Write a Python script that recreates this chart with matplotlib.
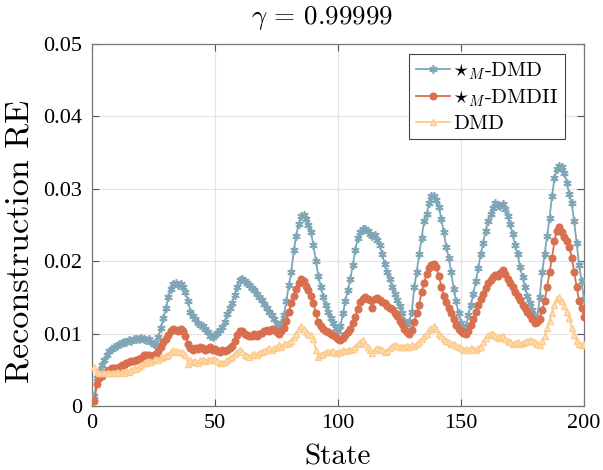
import numpy as np
import matplotlib
matplotlib.use("Agg")
import matplotlib.pyplot as plt

# Reconstruction relative error per state, three methods
states = np.arange(1, 201)

re_star_dmd = [
    0.0014, 0.0038, 0.0048, 0.0056, 0.0063, 0.0070, 0.0076, 0.0079, 0.0082, 0.0083,
    0.0086, 0.0087, 0.0088, 0.0089, 0.0091, 0.0090, 0.0092, 0.0093, 0.0092, 0.0094,
    0.0093, 0.0091, 0.0092, 0.0089, 0.0086, 0.0084, 0.0095, 0.0108, 0.0121, 0.0135,
    0.0150, 0.0161, 0.0168, 0.0170, 0.0167, 0.0168, 0.0165, 0.0158, 0.0145, 0.0130,
    0.0124, 0.0120, 0.0114, 0.0112, 0.0110, 0.0106, 0.0102, 0.0097, 0.0095, 0.0098,
    0.0101, 0.0105, 0.0109, 0.0116, 0.0127, 0.0135, 0.0142, 0.0153, 0.0165, 0.0174,
    0.0176, 0.0172, 0.0170, 0.0167, 0.0163, 0.0160, 0.0154, 0.0150, 0.0146, 0.0141,
    0.0135, 0.0130, 0.0126, 0.0120, 0.0113, 0.0110, 0.0115, 0.0125, 0.0145, 0.0167,
    0.0185, 0.0215, 0.0235, 0.0252, 0.0262, 0.0264, 0.0258, 0.0250, 0.0240, 0.0222,
    0.0200, 0.0180, 0.0165, 0.0150, 0.0140, 0.0130, 0.0122, 0.0114, 0.0108, 0.0103,
    0.0110, 0.0128, 0.0145, 0.0160, 0.0175, 0.0195, 0.0215, 0.0232, 0.0240, 0.0244,
    0.0245, 0.0242, 0.0238, 0.0235, 0.0236, 0.0229, 0.0222, 0.0210, 0.0196, 0.0185,
    0.0176, 0.0165, 0.0155, 0.0146, 0.0138, 0.0128, 0.0118, 0.0113, 0.0116, 0.0130,
    0.0165, 0.0185, 0.0210, 0.0232, 0.0255, 0.0265, 0.0280, 0.0290, 0.0290, 0.0285,
    0.0275, 0.0258, 0.0240, 0.0220, 0.0205, 0.0185, 0.0162, 0.0145, 0.0128, 0.0115,
    0.0108, 0.0110, 0.0125, 0.0140, 0.0155, 0.0172, 0.0190, 0.0210, 0.0225, 0.0242,
    0.0255, 0.0265, 0.0273, 0.0280, 0.0278, 0.0276, 0.0279, 0.0272, 0.0262, 0.0252,
    0.0237, 0.0222, 0.0210, 0.0192, 0.0178, 0.0165, 0.0152, 0.0142, 0.0132, 0.0124,
    0.0122, 0.0150, 0.0185, 0.0210, 0.0235, 0.0260, 0.0290, 0.0315, 0.0328, 0.0332,
    0.0330, 0.0322, 0.0308, 0.0293, 0.0280, 0.0255, 0.0225, 0.0195, 0.0172, 0.0148,
]

re_star_dmdii = [
    0.0007, 0.0030, 0.0038, 0.0042, 0.0045, 0.0048, 0.0050, 0.0052, 0.0053, 0.0052,
    0.0054, 0.0056, 0.0057, 0.0060, 0.0061, 0.0062, 0.0062, 0.0064, 0.0065, 0.0066,
    0.0070, 0.0071, 0.0070, 0.0069, 0.0071, 0.0072, 0.0076, 0.0082, 0.0088, 0.0093,
    0.0098, 0.0103, 0.0106, 0.0105, 0.0104, 0.0106, 0.0103, 0.0097, 0.0086, 0.0080,
    0.0078, 0.0080, 0.0079, 0.0081, 0.0080, 0.0078, 0.0079, 0.0081, 0.0077, 0.0079,
    0.0076, 0.0075, 0.0077, 0.0076, 0.0078, 0.0080, 0.0083, 0.0090, 0.0098, 0.0104,
    0.0103, 0.0100, 0.0098, 0.0096, 0.0097, 0.0099, 0.0097, 0.0100, 0.0101, 0.0103,
    0.0105, 0.0104, 0.0106, 0.0105, 0.0102, 0.0100, 0.0104, 0.0108, 0.0118, 0.0130,
    0.0142, 0.0152, 0.0162, 0.0170, 0.0175, 0.0172, 0.0166, 0.0160, 0.0152, 0.0142,
    0.0128, 0.0116, 0.0110, 0.0107, 0.0104, 0.0102, 0.0100, 0.0098, 0.0095, 0.0092,
    0.0091, 0.0094, 0.0098, 0.0102, 0.0107, 0.0115, 0.0123, 0.0134, 0.0143, 0.0148,
    0.0150, 0.0148, 0.0147, 0.0136, 0.0148, 0.0149, 0.0147, 0.0144, 0.0142, 0.0138,
    0.0136, 0.0134, 0.0128, 0.0124, 0.0118, 0.0113, 0.0107, 0.0102, 0.0100, 0.0105,
    0.0116, 0.0128, 0.0140, 0.0158, 0.0170, 0.0182, 0.0190, 0.0195, 0.0196, 0.0192,
    0.0180, 0.0165, 0.0152, 0.0143, 0.0135, 0.0128, 0.0120, 0.0112, 0.0106, 0.0103,
    0.0101, 0.0100, 0.0103, 0.0112, 0.0120, 0.0130, 0.0140, 0.0148, 0.0155, 0.0163,
    0.0170, 0.0174, 0.0178, 0.0181, 0.0180, 0.0183, 0.0188, 0.0182, 0.0176, 0.0170,
    0.0165, 0.0158, 0.0152, 0.0146, 0.0140, 0.0135, 0.0130, 0.0126, 0.0120, 0.0115,
    0.0116, 0.0120, 0.0132, 0.0145, 0.0165, 0.0185, 0.0205, 0.0228, 0.0242, 0.0247,
    0.0240, 0.0233, 0.0228, 0.0220, 0.0205, 0.0185, 0.0165, 0.0145, 0.0135, 0.0123,
]

re_dmd = [
    0.0054, 0.0047, 0.0045, 0.0046, 0.0045, 0.0046, 0.0045, 0.0046, 0.0045, 0.0047,
    0.0046, 0.0047, 0.0046, 0.0048, 0.0047, 0.0050, 0.0052, 0.0051, 0.0054, 0.0057,
    0.0059, 0.0060, 0.0062, 0.0061, 0.0063, 0.0065, 0.0064, 0.0066, 0.0068, 0.0069,
    0.0071, 0.0074, 0.0077, 0.0076, 0.0074, 0.0075, 0.0073, 0.0070, 0.0058, 0.0063,
    0.0061, 0.0062, 0.0060, 0.0063, 0.0064, 0.0062, 0.0064, 0.0063, 0.0065, 0.0063,
    0.0062, 0.0060, 0.0059, 0.0061, 0.0063, 0.0066, 0.0068, 0.0072, 0.0075, 0.0077,
    0.0075, 0.0071, 0.0069, 0.0068, 0.0070, 0.0072, 0.0071, 0.0073, 0.0075, 0.0076,
    0.0078, 0.0080, 0.0078, 0.0080, 0.0082, 0.0084, 0.0082, 0.0085, 0.0086, 0.0087,
    0.0090, 0.0095, 0.0100, 0.0106, 0.0110, 0.0106, 0.0102, 0.0100, 0.0098, 0.0092,
    0.0078, 0.0068, 0.0070, 0.0072, 0.0074, 0.0075, 0.0074, 0.0076, 0.0073, 0.0073,
    0.0075, 0.0077, 0.0076, 0.0078, 0.0077, 0.0079, 0.0082, 0.0085, 0.0089, 0.0091,
    0.0086, 0.0082, 0.0078, 0.0073, 0.0078, 0.0080, 0.0079, 0.0077, 0.0075, 0.0076,
    0.0080, 0.0083, 0.0084, 0.0083, 0.0082, 0.0081, 0.0082, 0.0083, 0.0082, 0.0084,
    0.0083, 0.0085, 0.0088, 0.0092, 0.0096, 0.0100, 0.0105, 0.0108, 0.0110, 0.0106,
    0.0100, 0.0096, 0.0093, 0.0090, 0.0088, 0.0086, 0.0085, 0.0083, 0.0081, 0.0080,
    0.0078, 0.0079, 0.0078, 0.0080, 0.0079, 0.0078, 0.0080, 0.0082, 0.0088, 0.0094,
    0.0098, 0.0100, 0.0099, 0.0096, 0.0094, 0.0095, 0.0097, 0.0093, 0.0090, 0.0088,
    0.0085, 0.0087, 0.0089, 0.0086, 0.0087, 0.0089, 0.0090, 0.0091, 0.0090, 0.0088,
    0.0085, 0.0084, 0.0090, 0.0097, 0.0108, 0.0118, 0.0128, 0.0140, 0.0148, 0.0150,
    0.0145, 0.0138, 0.0130, 0.0122, 0.0108, 0.0098, 0.0090, 0.0085, 0.0084, 0.0085,
]

series_labels = [r"$\star_M$-DMD", r"$\star_M$-DMDII", r"DMD"]
x_ticks = [0, 50, 100, 150, 200]
y_ticks = [0, 0.01, 0.02, 0.03, 0.04, 0.05]
y_tick_labels = ["0", "0.01", "0.02", "0.03", "0.04", "0.05"]

plt.rcParams["mathtext.fontset"] = "cm"

fig = plt.figure(figsize=(6.03, 4.70), dpi=100)
ax = fig.add_axes([0.1526, 0.1362, 0.8159, 0.7702])

c_blue = "#7fa6b7"
c_red = "#d8704f"
c_yel = "#fdca8b"

ax.plot(states, re_star_dmd, color=c_blue, lw=1.3, marker=(6, 2, 0),
        ms=6, mew=1.2, label=series_labels[0], zorder=3)
ax.plot(states, re_star_dmdii, color=c_red, lw=1.3, marker="o",
        ms=5, mew=0.8, mfc=c_red, label=series_labels[1], zorder=4)
ax.plot(states, re_dmd, color=c_yel, lw=1.3, marker="^",
        ms=5, mew=1.0, mfc="#fee3c0", label=series_labels[2], zorder=5)

ax.set_xlim(0, 200)
ax.set_ylim(0, 0.05)
ax.set_xticks(x_ticks)
ax.set_yticks(y_ticks)
ax.set_yticklabels(y_tick_labels)
for lab in ax.get_xticklabels() + ax.get_yticklabels():
    lab.set_fontfamily("Liberation Serif")
    lab.set_fontsize(16)

ax.tick_params(axis="x", pad=6)
ax.tick_params(axis="y", pad=7)
ax.tick_params(direction="in", top=True, right=True, length=5,
               width=0.8, color="#555555")
ax.grid(True, color="#e3e3e3", lw=0.8)
ax.set_axisbelow(True)
for sp in ax.spines.values():
    sp.set_color("#777777")
    sp.set_linewidth(0.9)

ax.set_xlabel("State", fontfamily="cmr10", fontsize=21)
ax.xaxis.set_label_coords(0.5, -0.106)
ax.set_ylabel("Reconstruction RE", fontfamily="cmr10", fontsize=24.5)
ax.yaxis.set_label_coords(-0.116, 0.455)

fig.text(322 / 603, 1 - 18 / 470, r"$\gamma\,=\,0.99999$", fontsize=19.5,
         ha="center", va="center")

leg = ax.legend(loc="upper right", bbox_to_anchor=(0.961, 0.972),
                borderaxespad=0.0, frameon=True, fancybox=False,
                borderpad=0.3, labelspacing=0.26, handlelength=1.65,
                handletextpad=0.15,
                prop={"family": "cmr10", "size": 15})
leg.get_frame().set_edgecolor("#444444")
leg.get_frame().set_linewidth(0.8)
leg.get_frame().set_alpha(1.0)

fig.savefig("out.png", dpi=100)
